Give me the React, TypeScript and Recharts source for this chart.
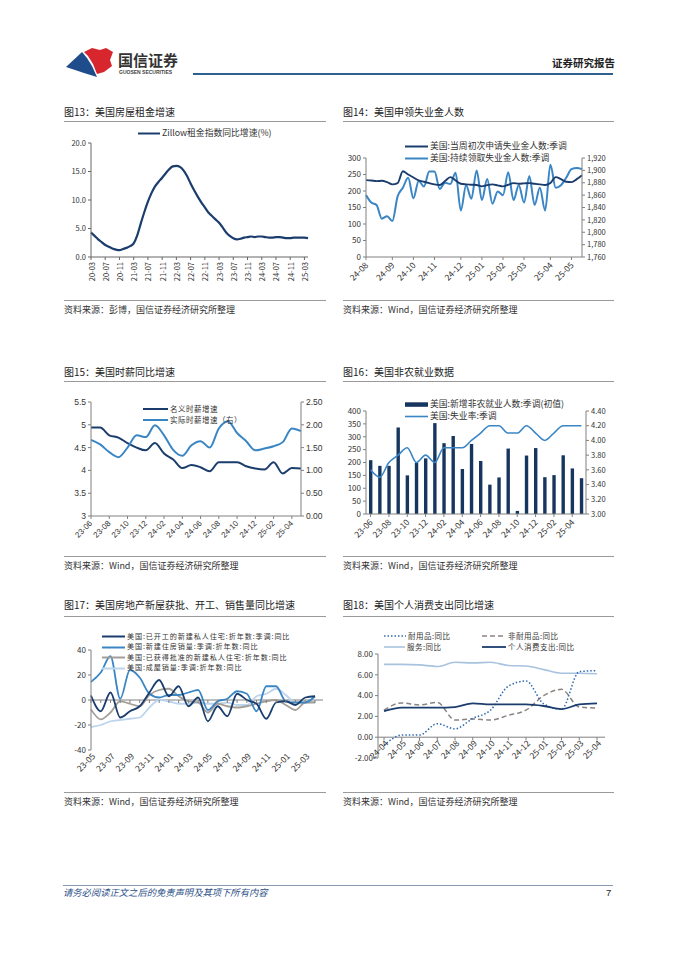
import React from "react";
import {
  LineChart,
  Line,
  ComposedChart,
  Bar,
  XAxis,
  YAxis,
  ReferenceLine,
} from "recharts";

const CJK = '"Noto Sans CJK SC", "Noto Sans", sans-serif';
const SANS = '"Liberation Sans", Arial, sans-serif';
const NAVY = "#1b3d6d";
const BLUE = "#3a86c5";
const AXIS = "#808080";
const INK = "#333";

// 图13 Zillow租金指数同比
const rentMonths = [
  "20-03", "20-04", "20-05", "20-06", "20-07", "20-08", "20-09", "20-10", "20-11", "20-12",
  "21-01", "21-02", "21-03", "21-04", "21-05", "21-06", "21-07", "21-08", "21-09", "21-10", "21-11", "21-12",
  "22-01", "22-02", "22-03", "22-04", "22-05", "22-06", "22-07", "22-08", "22-09", "22-10", "22-11", "22-12",
  "23-01", "23-02", "23-03", "23-04", "23-05", "23-06", "23-07", "23-08", "23-09", "23-10", "23-11", "23-12",
  "24-01", "24-02", "24-03", "24-04", "24-05", "24-06", "24-07", "24-08", "24-09", "24-10", "24-11", "24-12",
  "25-01", "25-02", "25-03", "25-04",
];
const rentYoY = [
  4.3, 3.7, 3.1, 2.6, 2.1, 1.8, 1.5, 1.3, 1.2, 1.4,
  1.6, 1.9, 2.4, 3.8, 5.9, 7.9, 9.7, 11.2, 12.4, 13.2, 13.9, 14.7,
  15.4, 15.9, 16.0, 15.8, 15.2, 14.2, 12.9, 11.7, 10.6, 9.6, 8.7, 7.8,
  7.2, 6.6, 6.0, 5.2, 4.3, 3.7, 3.3, 3.1, 3.2, 3.4, 3.5, 3.6,
  3.5, 3.6, 3.6, 3.5, 3.4, 3.4, 3.5, 3.5, 3.4, 3.3, 3.3, 3.4,
  3.4, 3.4, 3.4, 3.3,
];

// 图14 初请 / 续请失业金（周）
const claimWeeks = [
  "24-08-03", "24-08-10", "24-08-17", "24-08-24", "24-08-31", "24-09-07", "24-09-14", "24-09-21", "24-09-28",
  "24-10-05", "24-10-12", "24-10-19", "24-10-26", "24-11-02", "24-11-09", "24-11-16", "24-11-23", "24-11-30",
  "24-12-07", "24-12-14", "24-12-21", "24-12-28", "25-01-04", "25-01-11", "25-01-18", "25-01-25",
  "25-02-01", "25-02-08", "25-02-15", "25-02-22", "25-03-01", "25-03-08", "25-03-15", "25-03-22", "25-03-29",
  "25-04-05", "25-04-12", "25-04-19", "25-04-26", "25-05-03", "25-05-10", "25-05-17",
];
const claimTicks = [
  "24-08-03", "24-09-07", "24-10-05", "24-11-02", "24-12-07",
  "25-01-04", "25-02-01", "25-03-01", "25-04-05", "25-05-03",
];
const initialClaims = [
  233, 232, 230, 231, 227, 220, 224, 260, 250, 241, 232, 228, 224, 220, 218, 230, 242, 232, 222, 220, 219,
  218, 214, 218, 220, 217, 214, 219, 224, 222, 223, 224, 222, 220, 218, 224, 242, 236, 228, 227, 236, 248,
];
const continuingClaims = [
  1860, 1848, 1844, 1822, 1826, 1818, 1858, 1872, 1888, 1855, 1883, 1874, 1898, 1898, 1870, 1880, 1878, 1896,
  1835, 1876, 1854, 1900, 1852, 1886, 1846, 1866, 1860, 1897, 1852, 1876, 1848, 1891, 1844, 1872, 1835, 1909,
  1872, 1876, 1888, 1902, 1904, 1902,
];

// 图15 时薪
const wageMonths = [
  "23-06", "23-07", "23-08", "23-09", "23-10", "23-11", "23-12", "24-01", "24-02", "24-03", "24-04", "24-05",
  "24-06", "24-07", "24-08", "24-09", "24-10", "24-11", "24-12", "25-01", "25-02", "25-03", "25-04", "25-05",
];
const nominalWage = [
  4.94, 4.94, 4.77, 4.72, 4.6, 4.5, 4.44, 4.6, 4.37, 4.24, 4.05, 4.12,
  4.07, 3.98, 4.18, 4.18, 4.18, 4.09, 4.04, 4.02, 4.18, 3.93, 4.05, 4.04,
];
const realWage = [
  1.67, 1.57, 1.4, 1.29, 1.5, 1.77, 1.73, 1.99, 1.77, 1.45, 1.32, 1.55,
  1.64, 1.5, 1.92, 2.08, 1.82, 1.64, 1.44, 1.48, 1.53, 1.62, 1.92, 1.86,
];

// 图16 非农
const payrollMonths = wageMonths;
const payrolls = [
  209, 187, 187, 336, 150, 199, 216, 353, 275, 303, 175, 272,
  206, 114, 142, 254, 12, 227, 256, 143, 151, 228, 177, 139,
];
const unemployment = [
  3.6, 3.5, 3.7, 3.8, 3.9, 3.7, 3.8, 3.7, 3.9, 3.9, 3.9, 4.0,
  4.1, 4.2, 4.2, 4.1, 4.1, 4.2, 4.1, 4.0, 4.1, 4.2, 4.2, 4.2,
];

// 图17 房地产
const housingMonths = [
  "23-05", "23-06", "23-07", "23-08", "23-09", "23-10", "23-11", "23-12", "24-01", "24-02", "24-03", "24-04",
  "24-05", "24-06", "24-07", "24-08", "24-09", "24-10", "24-11", "24-12", "25-01", "25-02", "25-03", "25-04",
];
const housingStarts = [3.6, -9, 6, -14, -9, -5, 6, 16, 3, 11, -5, 2, -17, -5, -13, 5, 0, -3, -15, -2, -1, -4, 2, 3];
const newHomeSales = [14.5, 22, 35, 1, 24, 18, 5, 2, 4, 4, 6, 8, -8, -1, 1, 7, 5, -9, 11, 11, -1, -2, -2, 3];
const permits = [-7.5, -15.5, -10, -1, -3, -5, 4, 8, 9, 3, -1, -2, -10, -3, -5, -6, -5, -3, -1, 0, -4, -8, -2, -2];
const existingSales = [-21.6, -20, -17, -16, -15, -14, -6, 0, -1, -3, -3, -2, -3, -3, -2, -4, -4, 3, 5, 9, 4, -2, -2, -1];

// 图18 个人消费支出
const pceMonths = ["24-04", "24-05", "24-06", "24-07", "24-08", "24-09", "24-10", "24-11", "24-12", "25-01", "25-02", "25-03", "25-04"];
const durables = [-0.8, 0.2, 0.2, 1.3, 0.8, 1.8, 2.6, 4.9, 5.4, 3.2, 2.7, 6.3, 6.4];
const nondurables = [2.6, 3.3, 3.1, 3.35, 1.65, 1.75, 1.65, 2.1, 2.6, 4.0, 4.6, 2.9, 2.8];
const services = [7.0, 7.0, 6.95, 6.8, 7.2, 7.15, 7.2, 6.9, 6.85, 6.5, 6.15, 6.15, 6.1];
const pceTotal = [2.5, 2.85, 2.85, 2.85, 2.9, 3.25, 3.15, 3.15, 3.15, 3.0, 2.7, 3.15, 3.25];

const rentData = rentMonths.map((m, i) => ({ m, v: rentYoY[i] }));
const claimData = claimWeeks.map((w, i) => ({ w, a: initialClaims[i], b: continuingClaims[i] }));
const wageData = wageMonths.map((m, i) => ({ m, n: nominalWage[i], r: realWage[i] }));
const payrollData = payrollMonths.map((m, i) => ({ m, p: payrolls[i], u: unemployment[i] }));
const housingData = housingMonths.map((m, i) => ({
  m, s: housingStarts[i], n: newHomeSales[i], p: permits[i], e: existingSales[i],
}));
const pceData = pceMonths.map((m, i) => ({
  m, d: durables[i], nd: nondurables[i], sv: services[i], t: pceTotal[i],
}));

// rotated x labels, text ends at the tick
const slantTick = (angle: number, size: number, family: string, dy = 3, fmt = (v: string) => v) =>
  (p: any) => (
    <g transform={`translate(${p.x},${p.y + dy})`}>
      <text transform={`rotate(${angle})`} textAnchor="end" dominantBaseline="central"
        fontSize={size} fontFamily={family} fill={INK}>
        {fmt(String(p.payload.value))}
      </text>
    </g>
  );

// tick marks sit on the zero line, labels placed below
const zeroTick = (zeroUp: number, labelUp: number, every: number, size: number) => (p: any) => (
  <g>
    <line x1={p.x} x2={p.x} y1={p.y - zeroUp} y2={p.y - zeroUp + 3} stroke={AXIS} />
    {p.index % every === 0 ? (
      <g transform={`translate(${p.x + 2},${p.y - labelUp + 4})`}>
        <text transform="rotate(-45)" textAnchor="end" dominantBaseline="central"
          fontSize={size} fontFamily={CJK} fill={INK}>
          {p.payload.value}
        </text>
      </g>
    ) : null}
  </g>
);

const tickFont = { fontSize: 8, fontFamily: CJK, fill: INK };

const Txt = ({ x, y, size, children, style }: any) => (
  <div style={{
    position: "absolute", left: x, top: y - size * 0.6, fontSize: size, lineHeight: 1.2,
    fontFamily: CJK, color: INK, whiteSpace: "nowrap", ...style,
  }}>
    {children}
  </div>
);

const HLine = ({ x, y, w, color = "#9a9a9a", h = 1.3 }: any) => (
  <div style={{ position: "absolute", left: x, top: y, width: w, height: h, background: color }} />
);

const Key = ({ x, y, w = 23, color, dash, bar, label, size = 8.8, sw = 2, ls = 0 }: any) => {
  const h = Math.round(size);
  return (
    <div style={{
      position: "absolute", left: x, top: y - h / 2, height: h, display: "flex", alignItems: "center",
      whiteSpace: "nowrap", fontSize: size, lineHeight: 1, fontFamily: CJK, color: INK, letterSpacing: ls,
    }}>
      <svg width={w} height={h} style={{ marginRight: 2 }}>
        {bar ? (
          <rect x={0} y={h / 2 - 2.2} width={w} height={4.5} fill={color} />
        ) : (
          <line x1={0} x2={w} y1={h / 2} y2={h / 2} stroke={color} strokeWidth={sw} strokeDasharray={dash} />
        )}
      </svg>
      <span style={{ lineHeight: 1 }}>{label}</span>
    </div>
  );
};

const Box = ({ x, y, children }: any) => (
  <div style={{ position: "absolute", left: x, top: y }}>{children}</div>
);

const Section = ({ x, title, titleY, lineY, srcY, srcLineY, src }: any) => (
  <>
    <Txt x={x} y={titleY} size={10} style={{ color: "#222" }}>{title}</Txt>
    <HLine x={x} y={lineY} w={x < 200 ? 262 : 271} />
    <HLine x={x} y={srcLineY} w={x < 200 ? 262 : 271} />
    <Txt x={x} y={srcY} size={9}>{src}</Txt>
  </>
);

export default function App() {
  return (
    <div style={{ position: "absolute", left: 0, top: 0, width: 677, height: 957, background: "#fff", overflow: "hidden" }}>
      {/* header */}
      <svg width={200} height={40} style={{ position: "absolute", left: 60, top: 42 }}>
        <polygon points="6,25 22,10 27,16 32,24 37,35 24,31" fill="#1f4d8c" />
        <polygon points="24,10 32,6 40,8 46,6 53,10 50,18 52,24 44,30 37,32 33,22 28,14" fill="#d7262e" />
        <text x={58} y={24} fontSize={15} fontWeight={700} fontFamily={CJK} fill="#333">国信证券</text>
        <text x={59} y={32} fontSize={5} fontWeight={700} fontFamily={SANS} fill="#444">GUOSEN SECURITIES</text>
      </svg>
      <Txt x={552} y={63} size={10.5} style={{ fontWeight: 700, color: "#222" }}>证券研究报告</Txt>
      <HLine x={193} y={73} w={420} h={2} color="#2f5f8f" />

      {/* row 1 */}
      <Section x={64} title="图13：美国房屋租金增速" titleY={112} lineY={120.5} srcLineY={299.5} srcY={310}
        src="资料来源：彭博，国信证券经济研究所整理" />
      <Section x={343} title="图14：美国申领失业金人数" titleY={112} lineY={120.5} srcLineY={299.5} srcY={310}
        src="资料来源：Wind，国信证券经济研究所整理" />

      <Box x={60} y={125}>
        <LineChart width={270} height={175} data={rentData} margin={{ top: 18, right: 22, bottom: 0, left: 0 }}>
          <XAxis dataKey="m" interval={3} height={43} stroke="#666" tickSize={3} tickMargin={0}
            tick={slantTick(-90, 7.5, CJK, 2)} />
          <YAxis width={31} domain={[0, 20]} ticks={[0, 5, 10, 15, 20]} interval={0} stroke="#666" tickSize={3}
            tickFormatter={(v: number) => v.toFixed(1)} tick={{ ...tickFont, fontSize: 7.5 }} />
          <Line dataKey="v" type="monotone" stroke={NAVY} strokeWidth={2.2} dot={false} isAnimationActive={false} />
        </LineChart>
      </Box>
      <Key x={138} y={133} w={22} color={NAVY} label="Zillow租金指数同比增速(%)" />

      <Box x={335} y={120}>
        <LineChart width={280} height={185} data={claimData} margin={{ top: 38, right: 0, bottom: 0, left: 0 }}>
          <XAxis dataKey="w" ticks={claimTicks} interval={0} height={48} stroke={AXIS} tickSize={3} tickMargin={0}
            tick={slantTick(-45, 8.5, CJK, 3, (v) => v.slice(0, 5))} />
          <YAxis yAxisId="l" width={31} domain={[0, 300]} ticks={[0, 50, 100, 150, 200, 250, 300]} interval={0}
            stroke={AXIS} tickSize={3} tick={tickFont} />
          <YAxis yAxisId="r" orientation="right" width={33} domain={[1760, 1920]} interval={0}
            ticks={[1760, 1780, 1800, 1820, 1840, 1860, 1880, 1900, 1920]} stroke={AXIS} tickSize={3}
            tickFormatter={(v: number) => v.toLocaleString("en-US")} tick={{ ...tickFont, fontSize: 7.5 }} />
          <Line yAxisId="r" dataKey="b" type="monotone" stroke={BLUE} strokeWidth={2} dot={false} isAnimationActive={false} />
          <Line yAxisId="l" dataKey="a" type="monotone" stroke={NAVY} strokeWidth={1.9} dot={false} isAnimationActive={false} />
        </LineChart>
      </Box>
      <Key x={405} y={146} color={NAVY} label="美国:当周初次申请失业金人数:季调" />
      <Key x={405} y={158} color={BLUE} label="美国:持续领取失业金人数:季调" />

      {/* row 2 */}
      <Section x={64} title="图15：美国时薪同比增速" titleY={372} lineY={381} srcLineY={556} srcY={566.5}
        src="资料来源：Wind，国信证券经济研究所整理" />
      <Section x={343} title="图16：美国非农就业数据" titleY={372} lineY={381} srcLineY={556} srcY={566.5}
        src="资料来源：Wind，国信证券经济研究所整理" />

      <Box x={60} y={380}>
        <LineChart width={270} height={180} data={wageData} margin={{ top: 22, right: 0, bottom: 0, left: 0 }}>
          <XAxis dataKey="m" interval={1} height={44} stroke={AXIS} tickSize={3} tickMargin={0}
            tick={slantTick(-45, 8, SANS, 3)} />
          <YAxis yAxisId="l" width={31} domain={[3, 5.5]} ticks={[3, 3.5, 4, 4.5, 5, 5.5]} interval={0} stroke={AXIS}
            tickSize={3} tick={{ fontSize: 8.5, fontFamily: SANS, fill: INK }} />
          <YAxis yAxisId="r" orientation="right" width={29} domain={[0, 2.5]} ticks={[0, 0.5, 1, 1.5, 2, 2.5]}
            interval={0} stroke={AXIS} tickSize={3} tickFormatter={(v: number) => v.toFixed(2)}
            tick={{ fontSize: 8.5, fontFamily: SANS, fill: INK }} />
          <Line yAxisId="l" dataKey="n" type="monotone" stroke={NAVY} strokeWidth={2} dot={false} isAnimationActive={false} />
          <Line yAxisId="r" dataKey="r" type="monotone" stroke={BLUE} strokeWidth={2} dot={false} isAnimationActive={false} />
        </LineChart>
      </Box>
      <Key x={143} y={409} w={25} size={7.5} ls={0.5} color={NAVY} label="名义时薪增速" />
      <Key x={143} y={420} w={25} size={7.5} ls={0.5} color={BLUE} label="实际时薪增速（右）" />

      <Box x={335} y={380}>
        <ComposedChart width={280} height={180} data={payrollData} margin={{ top: 31, right: 0, bottom: 0, left: 0 }}>
          <XAxis dataKey="m" interval={1} height={46} stroke={AXIS} tickSize={3} tickMargin={0}
            tick={slantTick(-45, 8.5, CJK, 3)} />
          <YAxis yAxisId="l" width={31} domain={[0, 400]} ticks={[0, 50, 100, 150, 200, 250, 300, 350, 400]}
            interval={0} stroke={AXIS} tickSize={3} tick={tickFont} />
          <YAxis yAxisId="r" orientation="right" width={29} domain={[3, 4.4]} interval={0}
            ticks={[3, 3.2, 3.4, 3.6, 3.8, 4, 4.2, 4.4]} stroke={AXIS} tickSize={3}
            tickFormatter={(v: number) => v.toFixed(2)} tick={{ ...tickFont, fontSize: 7.5 }} />
          <Bar yAxisId="l" dataKey="p" fill="#17365f" barSize={3.4} isAnimationActive={false} />
          <Line yAxisId="r" dataKey="u" type="monotone" stroke={BLUE} strokeWidth={1.6} dot={false} isAnimationActive={false} />
        </ComposedChart>
      </Box>
      <Key x={405} y={404} color="#17365f" bar label="美国:新增非农就业人数:季调(初值)" />
      <Key x={405} y={416} color={BLUE} sw={1.6} label="美国:失业率:季调" />

      {/* row 3 */}
      <Section x={64} title="图17：美国房地产新屋获批、开工、销售量同比增速" titleY={605} lineY={616} srcLineY={792} srcY={802.5}
        src="资料来源：Wind，国信证券经济研究所整理" />
      <Section x={343} title="图18：美国个人消费支出同比增速" titleY={605} lineY={616} srcLineY={792} srcY={802.5}
        src="资料来源：Wind，国信证券经济研究所整理" />

      <Box x={60} y={625}>
        <LineChart width={270} height={175} data={housingData} margin={{ top: 25, right: 7, bottom: 0, left: 0 }}>
          <ReferenceLine y={0} stroke={AXIS} />
          <XAxis dataKey="m" interval={0} height={50} padding={{ left: 0, right: 8 }} axisLine={false}
            tickLine={false} tickSize={0} tickMargin={0} tick={zeroTick(50, 0, 2, 8.5)} />
          <YAxis width={31} domain={[-40, 40]} ticks={[-40, -20, 0, 20, 40]} interval={0} stroke={AXIS} tickSize={3} tick={tickFont} />
          <Line dataKey="e" type="monotone" stroke="#bcd4ec" strokeWidth={1.8} dot={false} isAnimationActive={false} />
          <Line dataKey="p" type="monotone" stroke="#a39e98" strokeWidth={1.8} dot={false} isAnimationActive={false} />
          <Line dataKey="n" type="monotone" stroke={BLUE} strokeWidth={1.8} dot={false} isAnimationActive={false} />
          <Line dataKey="s" type="monotone" stroke={NAVY} strokeWidth={1.8} dot={false} isAnimationActive={false} />
        </LineChart>
      </Box>
      <Key x={102} y={636.5} color={NAVY} size={7.1} ls={0.9} label="美国:已开工的新建私人住宅:折年数:季调:同比" />
      <Key x={102} y={647} color={BLUE} size={7.1} ls={0.9} label="美国:新建住房销量:季调:折年数:同比" />
      <Key x={102} y={657.5} color="#a39e98" size={7.1} ls={0.9} label="美国:已获得批准的新建私人住宅:折年数:同比" />
      <Key x={102} y={668} color="#bcd4ec" size={7.1} ls={0.9} label="美国:成屋销量:季调:折年数:同比" />

      <Box x={335} y={625}>
        <LineChart width={280} height={175} data={pceData} margin={{ top: 29, right: 10, bottom: 0, left: 0 }}>
          <ReferenceLine y={0} stroke={AXIS} />
          <XAxis dataKey="m" interval={0} height={42} padding={{ left: 6, right: 8 }} axisLine={false}
            tickLine={false} tickSize={0} tickMargin={0} tick={zeroTick(20.8, 20.8, 1, 8.5)} />
          <YAxis width={43} domain={[-2, 8]} ticks={[-2, 0, 2, 4, 6, 8]} interval={0} stroke={AXIS} tickSize={3}
            tickFormatter={(v: number) => v.toFixed(2)} tick={tickFont} />
          <Line dataKey="sv" type="monotone" stroke="#a8c3df" strokeWidth={1.6} dot={false} isAnimationActive={false} />
          <Line dataKey="nd" type="monotone" stroke="#8a8480" strokeWidth={1.5} strokeDasharray="5 3" dot={false} isAnimationActive={false} />
          <Line dataKey="d" type="monotone" stroke="#2e6bb3" strokeWidth={1.5} strokeDasharray="1.5 2" dot={false} isAnimationActive={false} />
          <Line dataKey="t" type="monotone" stroke={NAVY} strokeWidth={1.8} dot={false} isAnimationActive={false} />
        </LineChart>
      </Box>
      <Key x={384} y={636} w={22} size={7.5} ls={0.5} color="#2e6bb3" dash="1.5 2" sw={1.5} label="耐用品:同比" />
      <Key x={482} y={636} w={24} size={7.5} ls={0.5} color="#8a8480" dash="5 3" sw={1.5} label="非耐用品:同比" />
      <Key x={384} y={647} w={21} size={7.5} ls={0.5} color="#a8c3df" sw={1.6} label="服务:同比" />
      <Key x={482} y={647} w={24} size={7.5} ls={0.5} color={NAVY} sw={1.8} label="个人消费支出:同比" />

      {/* footer */}
      <HLine x={63} y={885} w={550} h={1} color="#8a9ab0" />
      <Txt x={63} y={893} size={9.3} style={{ fontStyle: "italic", color: "#2c4f87" }}>
        请务必阅读正文之后的免责声明及其项下所有内容
      </Txt>
      <Txt x={606} y={893} size={9.5} style={{ fontFamily: SANS, color: "#222" }}>7</Txt>
    </div>
  );
}
